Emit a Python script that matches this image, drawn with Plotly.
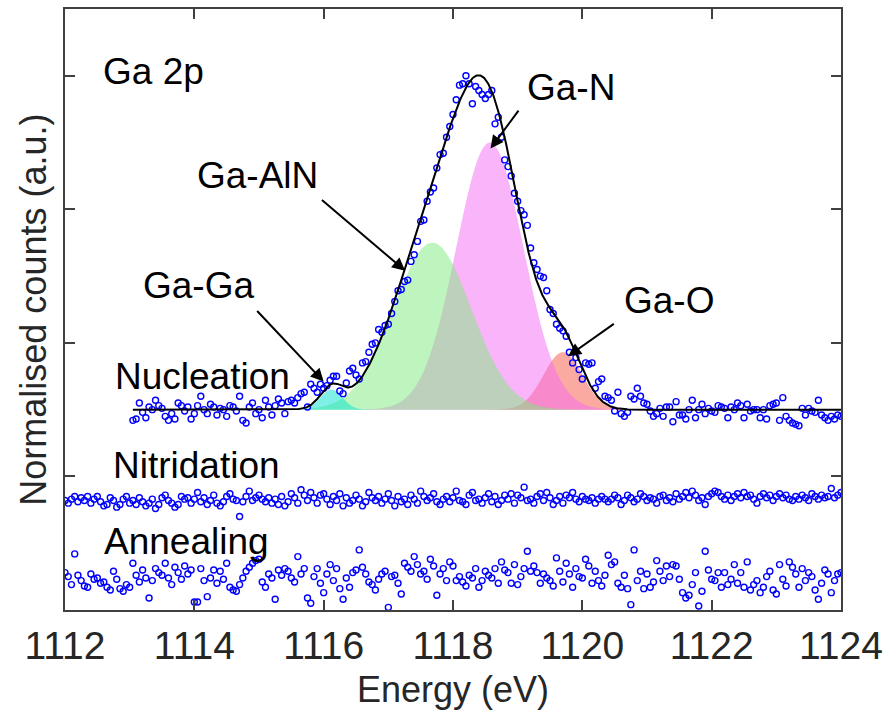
import numpy as np
import plotly.graph_objects as go

# ---------------- data ----------------
STEP = 0.05
nuc_start, nuc_stop = 1113.05, 1124.00
scan_start, scan_stop = 1112.00, 1124.00

# Nucleation spectrum (normalised counts, offset by 1.5)
nucleation = [
    1.42, 1.43, 1.55, 1.48, 1.44, 1.52, 1.50, 1.57, 1.53, 1.51, 1.45, 1.42, 1.47, 1.43, 1.55, 1.53, 1.49, 1.52, 1.43, 1.47,
    1.53, 1.60, 1.50, 1.47, 1.54, 1.52, 1.46, 1.51, 1.50, 1.45, 1.53, 1.52, 1.49, 1.60, 1.42, 1.40, 1.52, 1.55, 1.47, 1.50,
    1.44, 1.57, 1.52, 1.46, 1.53, 1.58, 1.55, 1.47, 1.56, 1.57, 1.55, 1.59, 1.62, 1.63, 1.52, 1.69, 1.66, 1.63, 1.69, 1.66,
    1.68, 1.72, 1.75, 1.75, 1.64, 1.62, 1.70, 1.79, 1.81, 1.76, 1.73, 1.85, 1.86, 1.93, 1.99, 2.00, 2.10, 2.08, 2.13, 2.14,
    2.22, 2.31, 2.39, 2.40, 2.46, 2.47, 2.61, 2.66, 2.76, 2.91, 2.92, 3.06, 3.13, 3.16, 3.31, 3.41, 3.42, 3.54, 3.62, 3.71,
    3.82, 3.93, 3.94, 4.00, 3.94, 3.79, 3.92, 3.89, 3.86, 3.83, 3.86, 3.89, 3.64, 3.69, 3.54, 3.37, 3.32, 3.25, 3.12, 3.06,
    2.99, 2.96, 2.88, 2.71, 2.60, 2.55, 2.50, 2.49, 2.39, 2.25, 2.22, 2.14, 2.11, 2.09, 2.05, 1.93, 1.85, 1.89, 1.80, 1.73,
    1.85, 1.84, 1.85, 1.66, 1.71, 1.73, 1.60, 1.59, 1.57, 1.49, 1.63, 1.47, 1.45, 1.48, 1.60, 1.58, 1.66, 1.60, 1.55, 1.54,
    1.49, 1.45, 1.47, 1.51, 1.45, 1.52, 1.52, 1.41, 1.56, 1.46, 1.46, 1.43, 1.50, 1.57, 1.44, 1.50, 1.54, 1.47, 1.51, 1.49,
    1.48, 1.53, 1.52, 1.51, 1.44, 1.52, 1.50, 1.55, 1.53, 1.44, 1.54, 1.49, 1.50, 1.50, 1.44, 1.50, 1.43, 1.53, 1.54, 1.55,
    1.42, 1.59, 1.45, 1.42, 1.40, 1.39, 1.38, 1.51, 1.46, 1.51, 1.49, 1.48, 1.57, 1.46, 1.44, 1.42, 1.45, 1.43, 1.46, 1.45,
]

# Nitridation spectrum
nitridation = [
    0.82, 0.80, 0.83, 0.85, 0.81, 0.84, 0.82, 0.85, 0.80, 0.83, 0.85, 0.81, 0.78, 0.79, 0.84, 0.82, 0.77, 0.79, 0.83, 0.85,
    0.80, 0.82, 0.79, 0.84, 0.81, 0.78, 0.80, 0.83, 0.76, 0.79, 0.84, 0.86, 0.82, 0.80, 0.77, 0.79, 0.85, 0.83, 0.84, 0.80,
    0.83, 0.88, 0.81, 0.84, 0.79, 0.82, 0.86, 0.80, 0.78, 0.81, 0.85, 0.87, 0.83, 0.82, 0.70, 0.81, 0.85, 0.89, 0.82, 0.84,
    0.86, 0.83, 0.81, 0.84, 0.80, 0.83, 0.79, 0.85, 0.78, 0.81, 0.87, 0.84, 0.80, 0.90, 0.86, 0.82, 0.88, 0.84, 0.80, 0.86,
    0.87, 0.83, 0.79, 0.85, 0.82, 0.87, 0.78, 0.84, 0.80, 0.82, 0.86, 0.83, 0.78, 0.81, 0.88, 0.84, 0.82, 0.85, 0.80, 0.83,
    0.87, 0.82, 0.78, 0.85, 0.81, 0.83, 0.79, 0.86, 0.83, 0.80, 0.89, 0.85, 0.82, 0.84, 0.87, 0.81, 0.79, 0.83, 0.85, 0.81,
    0.84, 0.89, 0.82, 0.81, 0.79, 0.86, 0.88, 0.82, 0.83, 0.80, 0.84, 0.87, 0.81, 0.85, 0.79, 0.82, 0.86, 0.83, 0.87, 0.80,
    0.86, 0.84, 0.92, 0.82, 0.83, 0.80, 0.85, 0.87, 0.82, 0.88, 0.84, 0.79, 0.82, 0.85, 0.80, 0.86, 0.84, 0.88, 0.83, 0.81,
    0.85, 0.83, 0.82, 0.84, 0.80, 0.83, 0.85, 0.83, 0.81, 0.83, 0.86, 0.84, 0.79, 0.82, 0.86, 0.84, 0.81, 0.83, 0.87, 0.85,
    0.82, 0.84, 0.83, 0.80, 0.85, 0.86, 0.82, 0.84, 0.81, 0.87, 0.83, 0.85, 0.88, 0.84, 0.89, 0.86, 0.82, 0.84, 0.79, 0.85,
    0.87, 0.89, 0.88, 0.85, 0.83, 0.86, 0.82, 0.85, 0.87, 0.84, 0.88, 0.85, 0.86, 0.83, 0.80, 0.85, 0.87, 0.84, 0.86, 0.82,
    0.85, 0.87, 0.84, 0.86, 0.83, 0.82, 0.85, 0.83, 0.86, 0.84, 0.82, 0.87, 0.85, 0.83, 0.86, 0.84, 0.85, 0.91, 0.84, 0.86, 0.88,
]

# Annealing spectrum
annealing = [
    0.28, 0.25, 0.19, 0.42, 0.26, 0.22, 0.18, 0.17, 0.27, 0.23, 0.24, 0.20, 0.21, 0.17, 0.15, 0.29, 0.23, 0.16, 0.14, 0.19,
    0.17, 0.35, 0.26, 0.21, 0.30, 0.24, 0.09, 0.22, 0.31, 0.28, 0.26, 0.35, 0.24, 0.19, 0.32, 0.28, 0.23, 0.33, 0.27, 0.30,
    0.06, 0.06, 0.31, 0.22, 0.10, 0.24, 0.30, 0.20, 0.29, 0.23, 0.35, 0.17, 0.15, 0.14, 0.19, 0.24, 0.29, 0.32, 0.35, 0.37,
    0.38, 0.21, 0.17, 0.27, 0.24, 0.08, 0.30, 0.26, 0.31, 0.29, 0.24, 0.21, 0.40, 0.27, 0.31, 0.09, 0.05, 0.25, 0.31, 0.20,
    0.13, 0.27, 0.34, 0.22, 0.31, 0.16, 0.08, 0.24, 0.17, 0.28, 0.30, 0.45, 0.32, 0.27, 0.21, 0.19, 0.15, 0.23, 0.27, 0.29,
    0.02, 0.25, 0.26, 0.20, 0.12, 0.35, 0.32, 0.29, 0.40, 0.34, 0.27, 0.29, 0.23, 0.38, 0.33, 0.11, 0.27, 0.31, 0.22, 0.36,
    0.33, 0.22, 0.25, 0.21, 0.18, 0.26, 0.24, 0.31, 0.17, 0.22, 0.29, 0.26, 0.24, 0.31, 0.20, 0.36, 0.30, 0.28, 0.20, 0.34,
    0.19, 0.25, 0.31, 0.44, 0.29, 0.33, 0.28, 0.20, 0.27, 0.24, 0.22, 0.18, 0.39, 0.29, 0.21, 0.35, 0.27, 0.17, 0.31, 0.25,
    0.24, 0.38, 0.33, 0.20, 0.29, 0.22, 0.18, 0.26, 0.41, 0.34, 0.36, 0.20, 0.17, 0.26, 0.16, 0.04, 0.45, 0.22, 0.29, 0.16,
    0.27, 0.17, 0.21, 0.37, 0.29, 0.22, 0.33, 0.25, 0.34, 0.33, 0.23, 0.13, 0.09, 0.11, 0.19, 0.28, 0.03, 0.14, 0.44, 0.30,
    0.23, 0.22, 0.28, 0.17, 0.28, 0.19, 0.23, 0.34, 0.20, 0.28, 0.17, 0.36, 0.15, 0.19, 0.22, 0.13, 0.17, 0.25, 0.29, 0.15,
    0.12, 0.34, 0.23, 0.18, 0.36, 0.32, 0.27, 0.17, 0.31, 0.22, 0.28, 0.25, 0.15, 0.08, 0.20, 0.30, 0.27, 0.13, 0.22, 0.27, 0.28,
]

# Fitted Gaussian components of the nucleation spectrum
baseline = 1.5
comp_names = ["Ga-O", "Ga-N", "Ga-AlN", "Ga-Ga"]
comp_centres = [1119.70, 1118.57, 1117.68, 1116.12]   # eV
comp_heights = [0.43, 2.00, 1.25, 0.15]
comp_sigmas = [0.30, 0.52, 0.60, 0.17]                # eV
comp_colors = ["rgba(245,85,65,0.5)", "rgba(245,105,245,0.5)",
               "rgba(125,235,125,0.5)", "rgba(0,225,205,0.5)"]

# Axis ticks
x_ticks = [1112, 1114, 1116, 1118, 1120, 1122, 1124]
y_ticks = [0, 1, 2, 3, 4]

# ---------------- figure ----------------
FONT = "Liberation Sans, Arial, Helvetica, sans-serif"
AXIS_COLOR = "#404040"
TEXT_COLOR = "#262626"

x_nuc = np.round(np.arange(len(nucleation)) * STEP + nuc_start, 2)
x_scan = np.round(np.arange(len(nitridation)) * STEP + scan_start, 2)
x_fit = np.linspace(nuc_start, nuc_stop, 1096)


def gauss(x, mu, h, s):
    return h * np.exp(-((x - mu) ** 2) / (2 * s ** 2))


fig = go.Figure()

# filled component peaks
for name, mu, h, s, col in zip(comp_names, comp_centres, comp_heights, comp_sigmas, comp_colors):
    xs = np.linspace(mu - 4 * s, mu + 4 * s, 200)
    ys = baseline + gauss(xs, mu, h, s)
    fig.add_trace(go.Scatter(
        x=np.concatenate([xs, xs[::-1]]),
        y=np.concatenate([ys, np.full_like(xs, baseline)]),
        fill="toself", fillcolor=col, mode="none", name=name,
        hoverinfo="skip", showlegend=False))

marker = dict(symbol="circle-open", size=6, color="#0000ff", line=dict(width=1.4, color="#0000ff"))
for xs, ys, name in [(x_nuc, nucleation, "Nucleation"),
                     (x_scan, nitridation, "Nitridation"),
                     (x_scan, annealing, "Annealing")]:
    fig.add_trace(go.Scatter(x=xs, y=ys, mode="markers", marker=marker,
                             name=name, showlegend=False))

# total fit envelope
fit_total = baseline + sum(gauss(x_fit, mu, h, s)
                           for mu, h, s in zip(comp_centres, comp_heights, comp_sigmas))
fig.add_trace(go.Scatter(x=x_fit, y=fit_total, mode="lines",
                         line=dict(color="black", width=2), showlegend=False))

# ---------------- annotations ----------------
labels = [
    ("Ga 2p", 1113.37, 4.03),
    ("Ga-AlN", 1114.97, 3.25),
    ("Ga-Ga", 1114.06, 2.43),
    ("Ga-N", 1119.83, 3.91),
    ("Ga-O", 1121.34, 2.32),
    ("Nucleation", 1114.12, 1.75),
    ("Nitridation", 1114.03, 1.08),
    ("Annealing", 1113.88, 0.51),
]
arrows = [  # (tail_x, tail_y, head_x, head_y)
    (1115.95, 3.08, 1117.26, 2.54),
    (1114.95, 2.25, 1116.00, 1.71),
    (1119.03, 3.75, 1118.58, 3.455),
    (1120.51, 2.15, 1119.78, 1.90),
]

annotations = []
for text, x, y in labels:
    annotations.append(dict(x=x, y=y, xref="x", yref="y", text=text, showarrow=False,
                            xanchor="center", yanchor="middle",
                            font=dict(family=FONT, size=37, color="black")))
for tx, ty, hx, hy in arrows:
    annotations.append(dict(x=hx, y=hy, ax=tx, ay=ty, xref="x", yref="y", axref="x", ayref="y",
                            text="", showarrow=True, arrowhead=2, arrowsize=1.3,
                            arrowwidth=2, arrowcolor="black", standoff=0, startstandoff=0))

annotations.append(dict(x=0.5, y=-0.1327, xref="paper", yref="paper", text="Energy (eV)",
                        showarrow=False, xanchor="center", yanchor="middle",
                        font=dict(family=FONT, size=36, color=TEXT_COLOR)))
annotations.append(dict(x=-0.041, y=0.5, xref="paper", yref="paper",
                        text="Normalised counts (a.u.)", textangle=-90,
                        showarrow=False, xanchor="center", yanchor="middle",
                        font=dict(family=FONT, size=36, color=TEXT_COLOR)))

axis_common = dict(showgrid=False, zeroline=False, showline=True, linecolor=AXIS_COLOR,
                   linewidth=1.5, mirror="ticks", ticks="inside", ticklen=10,
                   tickwidth=1.5, tickcolor=AXIS_COLOR)

fig.update_layout(
    width=890, height=720,
    margin=dict(l=65, r=45, t=7, b=110),
    paper_bgcolor="white", plot_bgcolor="white",
    font=dict(family=FONT, size=36, color=TEXT_COLOR),
    xaxis=dict(range=[1112, 1124], tickvals=x_ticks, ticktext=[str(t) for t in x_ticks],
               tickfont=dict(family=FONT, size=39, color=TEXT_COLOR), **axis_common),
    yaxis=dict(range=[0, 4.5], tickvals=y_ticks, showticklabels=False, **axis_common),
    annotations=annotations,
    showlegend=False,
)

fig.write_html("out.html")
